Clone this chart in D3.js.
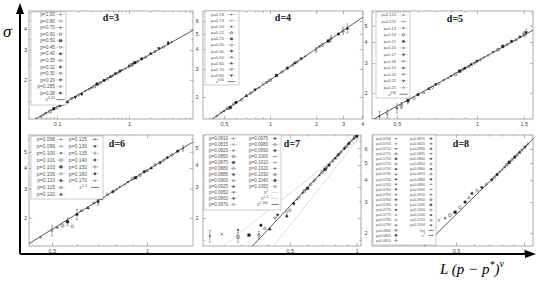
<!DOCTYPE html>
<html>
<head>
<meta charset="utf-8">
<script src="https://cdn.jsdelivr.net/npm/d3@7"></script>
<style>
  body { margin: 0; background: #fff; }
  svg { display: block; }
</style>
</head>
<body>
<script>
// values: x = L(p-p*)^nu, s = sigma, e = error bar half height

// d=3
const pD3 = ["1.00","0.80","0.70","0.60","0.50","0.45","0.40","0.35","0.32","0.30","0.29","0.285","0.28"];
const xD3 = [0.06,0.065,0.07,0.08,0.09,0.10,0.11,0.12,0.14,0.16,0.18,0.20,0.22,0.25,0.28,0.30,0.33,0.36,0.40,0.45,0.50,0.55,0.60,0.65,0.70,0.75,0.80,0.90,1.00,1.10,1.20,1.30,1.50,1.70,2.00,2.30,2.60,3.00,3.50,3.90];
const sD3 = [1.21,1.24,1.27,1.30,1.35,1.37,1.41,1.43,1.48,1.55,1.58,1.63,1.65,1.73,1.76,1.80,1.83,1.89,1.92,1.99,2.03,2.09,2.12,2.18,2.20,2.26,2.29,2.34,2.42,2.46,2.53,2.56,2.67,2.73,2.87,2.94,3.07,3.14,3.30,3.35];
const eD3 = [0,0,0,0,0,0,0,0,0,0,0,0,0,0,0,0,0,0,0,0,0,0,0,0,0,0,0,0,0.06,0.05,0,0,0,0,0,0,0,0,0.08,0];
const fitD3 = [[2.41, 0.24, "0.24"]];

// d=4
const pD4 = ["0.18","0.19","0.20","0.22","0.25","0.30","0.40","0.50","0.60","0.70","0.80"];
const xD4 = [0.45,0.48,0.50,0.53,0.55,0.58,0.60,0.65,0.70,0.75,0.80,0.85,0.90,0.95,1.00,1.10,1.20,1.30,1.40,1.45,1.50,1.60,1.70,2.00,2.10,2.20,2.40,2.50,2.80,3.00,3.20];
const sD4 = [1.52,1.60,1.63,1.70,1.72,1.81,1.85,1.92,2.04,2.11,2.22,2.29,2.40,2.47,2.55,2.73,2.87,3.04,3.17,3.27,3.32,3.48,3.60,3.95,4.16,4.25,4.50,4.66,4.98,5.20,5.42];
const eD4 = [0,0,0,0,0,0,0,0,0,0,0,0,0,0,0,0,0,0,0,0,0,0,0,0.15,0,0,0,0.2,0,0.25,0.35];
const fitD4 = [[2.56, 0.65, "0.65"]];

// d=5
const pD5 = ["0.124","0.125","0.13","0.14","0.15","0.16","0.17","0.18","0.19","0.20","0.22","0.25"];
const xD5 = [0.43,0.46,0.50,0.52,0.55,0.58,0.60,0.63,0.66,0.68,0.70,0.72,0.75,0.78,0.80,0.83,0.86,0.88,0.90,0.93,0.95,0.98,1.00,1.03,1.06,1.10,1.15,1.20,1.25,1.30,1.35,1.40,1.45,1.50,1.53];
const sD5 = [1.45,1.50,1.62,1.68,1.80,1.86,1.95,2.01,2.12,2.15,2.24,2.27,2.38,2.44,2.52,2.58,2.69,2.73,2.80,2.87,2.95,3.00,3.08,3.14,3.25,3.33,3.50,3.60,3.77,3.87,4.04,4.12,4.30,4.45,4.55];
const eD5 = [0.1,0.08,0.1,0.07,0.08,0,0,0,0,0,0,0,0,0,0,0,0,0,0,0,0,0,0,0,0,0,0,0,0,0,0,0,0,0.15,0.2];
const fitD5 = [[3.07, 0.88, "0.88"]];

// d=6
const pD6 = ["0.098","0.099","0.100","0.101","0.103","0.105","0.110","0.115","0.120","0.125","0.130","0.135","0.140","0.150","0.160","0.170"];
const xD6 = [0.46,0.50,0.52,0.54,0.56,0.58,0.60,0.62,0.65,0.68,0.70,0.70,0.72,0.75,0.78,0.80,0.82,0.85,0.87,0.90,0.92,0.95,0.98,1.00,1.03,1.06,1.10,1.13,1.16,1.20,1.25,1.30];
const sD6 = [1.53,1.68,1.75,1.80,1.90,1.78,2.10,2.22,2.30,2.45,2.50,2.60,2.62,2.78,2.88,2.97,3.08,3.18,3.30,3.45,3.50,3.62,3.80,3.86,4.00,4.17,4.30,4.46,4.62,4.78,5.05,5.25];
const eD6 = [0,0.12,0,0,0.1,0,0.15,0,0,0,0.12,0.1,0,0,0,0,0,0,0,0,0,0,0,0,0,0,0,0,0,0,0,0.2];
const fitD6 = [[3.87, 1.18, "1.1"]];

// d=7
const pD7 = ["0.0810","0.0815","0.0825","0.0850","0.0875","0.0880","0.0885","0.0900","0.0925","0.0950","0.0960","0.0970","0.0975","0.0980","0.0990","0.1000","0.1010","0.1020","0.1030","0.1040","0.1050"];
const xD7 = [0.218,0.247,0.292,0.292,0.327,0.362,0.370,0.385,0.406,0.428,0.440,0.484,0.484,0.50,0.52,0.54,0.55,0.57,0.58,0.60,0.62,0.64,0.65,0.68,0.70,0.72,0.73,0.75,0.78,0.80,0.82,0.83,0.85,0.88,0.90,0.92,0.93,0.95,0.97,0.98,1.00];
const sD7 = [1.58,1.62,1.71,1.56,1.60,1.60,1.82,1.75,1.73,2.00,2.08,2.16,2.05,2.22,2.42,2.55,2.62,2.78,2.85,2.95,3.10,3.24,3.30,3.50,3.65,3.78,3.86,4.00,4.22,4.38,4.52,4.60,4.74,4.98,5.12,5.30,5.38,5.52,5.65,5.75,5.85];
const eD7 = [0.12,0,0,0.1,0,0.08,0,0,0,0,0,0,0,0,0,0,0,0,0,0,0,0,0,0,0,0,0,0,0,0,0,0,0,0,0,0,0,0,0,0,0];
const fitD7 = [[5.52, 1, "1", "dot"], [5.5, 1.6, "1.5", "dot"], [5.93, 1.344, "1.344"]];

// d=8
const pD8 = ["0.0700","0.0705","0.0710","0.0715","0.0720","0.0725","0.0730","0.0735","0.0740","0.0745","0.0750","0.0755","0.0760","0.0765","0.0770","0.0775","0.0780","0.0790","0.0800","0.0805","0.0810",
             "0.0815","0.0820","0.0830","0.0835","0.0840","0.0850","0.0860","0.0870","0.0880","0.0890","0.0900","0.0910","0.0950","0.1000","0.1050","0.1100","0.1150","0.2094"];
const xD8 = [0.40,0.42,0.447,0.47,0.495,0.52,0.548,0.57,0.588,0.62,0.65,0.68,0.72,0.74,0.76,0.78,0.80,0.82,0.84,0.86,0.885,0.91,0.93,0.955,0.98,1.01,1.04];
const sD8 = [2.31,2.36,2.43,2.53,2.63,2.80,3.00,3.18,3.37,3.48,3.62,3.80,4.02,4.15,4.30,4.45,4.58,4.73,4.88,5.05,5.22,5.40,5.55,5.75,5.92,6.15,6.40];
const eD8 = xD8.map(() => 0);
const fitD8 = [[6.1, 1.26, "f(x)"]];

const panels = [
    { title: "d=3", tx: 111, ty: 21, box: [29, 11, 193, 119], xDom: [0.0408, 7.74], yDom: [1.175, 5.12],
      xTicks: [0.1, 1], yTicks: [2, 3, 4], ypad: 2, xs: xD3, ys: sD3, es: eD3, ps: pD3, fits: fitD3,
      leg: { x: 31, y: 12, w: 35, h: 93, text: [55], mark: [60.5], y0: 14.5, dy: 6.55, rows: 14, fs: 4.8, sw: 8 } },
    { title: "d=4", tx: 283, ty: 21, box: [203, 11, 363, 119], xDom: [0.365, 4.05], yDom: [1.455, 6.95],
      xTicks: [0.5, 1, 2, 3, 4], yTicks: [2, 3, 4, 5, 6], ypad: 4.5, xs: xD4, ys: sD4, es: eD4, ps: pD4, fits: fitD4,
      leg: { x: 205, y: 11, w: 34, h: 74, text: [224], mark: [231.5], y0: 14.5, dy: 6.1, rows: 12, fs: 4.2, sw: 8 } },
    { title: "d=5", tx: 455, ty: 22, box: [372, 11, 533, 119], xDom: [0.403, 1.624], yDom: [1.40, 6.11],
      xTicks: [0.5, 1, 1.5], yTicks: [2, 3, 4, 5], ypad: 4.5, xs: xD5, ys: sD5, es: eD5, ps: pD5, fits: fitD5,
      leg: { x: 376, y: 12, w: 34, h: 86, text: [396], mark: [403.5], y0: 15, dy: 6.6, rows: 13, fs: 4.0, sw: 8 } },
    { title: "d=6", tx: 117, ty: 147, box: [29, 135, 193, 246], xDom: [0.423, 1.398], yDom: [1.356, 6.32],
      xTicks: [0.5, 1], yTicks: [2, 3, 4, 5], ypad: 2, xs: xD6, ys: sD6, es: eD6, ps: pD6, fits: fitD6,
      leg: { x: 31, y: 136, w: 72, h: 63, text: [55, 87], mark: [61, 95], y0: 139.5, dy: 6.85, rows: 9, fs: 5.0, sw: 8 } },
    { title: "d=7", tx: 292, ty: 147, box: [203, 135, 361, 246], xDom: [0.203, 1.045], yDom: [1.387, 5.93],
      xTicks: [0.5, 1], yTicks: [2, 3, 4, 5], ypad: 4.5, xs: xD7, ys: sD7, es: eD7, ps: pD7, fits: fitD7,
      leg: { x: 204, y: 135, w: 77, h: 75, text: [228, 268], mark: [233.5, 275], y0: 138.5, dy: 6.0, rows: 12, fs: 4.5, sw: 7 } },
    { title: "d=8", tx: 461, ty: 147, box: [372, 135, 533, 246], xDom: [0.212, 1.096], yDom: [1.69, 7.21],
      xTicks: [0.5, 1], yTicks: [2, 3, 4, 5, 6], ypad: 4.5, xs: xD8, ys: sD8, es: eD8, ps: pD8, fits: fitD8, extra: "2",
      leg: { x: 373, y: 135, w: 63, h: 110, text: [391, 425], mark: [396, 431], y0: 138.5, dy: 5.1, rows: 21, fs: 3.6, sw: 5 } }
];

const svg = d3.select("body").append("svg")
    .attr("width", 538)
    .attr("height", 281)
    .style("font-family", "'Liberation Sans', Arial, sans-serif");

// gnuplot-like point types
function markerPath(t, s) {
    const k = t % 15;
    if (k === 0) return `M${-s},0H${s}M0,${-s}V${s}`;
    if (k === 1) return `M${-s},${-s}L${s},${s}M${-s},${s}L${s},${-s}`;
    if (k === 2) {
        const q = s * 0.7;
        return `M${-s},0H${s}M0,${-s}V${s}M${-q},${-q}L${q},${q}M${-q},${q}L${q},${-q}`;
    }
    if (k <= 4) return `M${-s},${-s}H${s}V${s}H${-s}Z`;
    if (k <= 6) return `M${s},0A${s},${s} 0 1,1 ${-s},0A${s},${s} 0 1,1 ${s},0Z`;
    if (k <= 8) return `M0,${-s * 1.15}L${s * 1.1},${s * 0.75}L${-s * 1.1},${s * 0.75}Z`;
    if (k <= 10) return `M0,${s * 1.15}L${s * 1.1},${-s * 0.75}L${-s * 1.1},${-s * 0.75}Z`;
    if (k <= 12) return `M0,${-s * 1.25}L${s},0L0,${s * 1.25}L${-s},0Z`;
    const pts = d3.range(5).map(i => {
        const a = -Math.PI / 2 + i * 2 * Math.PI / 5;
        return [s * 1.1 * Math.cos(a), s * 1.1 * Math.sin(a)];
    });
    return "M" + pts.map(p => p.join(",")).join("L") + "Z";
}
const isFilled = t => [4, 6, 8, 10, 12, 14].includes(t % 15);

function drawMarker(g, cx, cy, t, s, col) {
    g.append("path")
        .attr("transform", `translate(${cx},${cy})`)
        .attr("d", markerPath(t, s))
        .attr("fill", isFilled(t) ? col : "none")
        .attr("stroke", col)
        .attr("stroke-width", 0.45);
}

panels.forEach((p, k) => {
    const [x0, y0, x1, y1] = p.box;
    const x = d3.scaleLog().domain(p.xDom).range([x0, x1]);
    const y = d3.scaleLog().domain(p.yDom).range([y1, y0]);
    const g = svg.append("g");

    svg.append("clipPath").attr("id", "clip" + k)
        .append("rect")
        .attr("x", x0).attr("y", y0)
        .attr("width", x1 - x0).attr("height", y1 - y0);

    // minor ticks (all four sides)
    const xMinor = x.ticks().filter(v => !p.xTicks.includes(+v.toFixed(6)));
    const yMinor = y.ticks().filter(v => !p.yTicks.includes(+v.toFixed(6)));
    const styleAxis = sel => {
        sel.select(".domain").remove();
        sel.selectAll("line").attr("stroke", "#666").attr("stroke-width", 0.5);
        sel.selectAll("text").attr("fill", "#444");
    };
    g.append("g").attr("transform", `translate(0,${y1})`)
        .call(d3.axisBottom(x).tickValues(xMinor).tickSize(-1.6).tickFormat("")).call(styleAxis);
    g.append("g").attr("transform", `translate(0,${y0})`)
        .call(d3.axisTop(x).tickValues(xMinor).tickSize(-1.6).tickFormat("")).call(styleAxis);
    g.append("g").attr("transform", `translate(${x0},0)`)
        .call(d3.axisLeft(y).tickValues(yMinor).tickSize(-1.6).tickFormat("")).call(styleAxis);
    g.append("g").attr("transform", `translate(${x1},0)`)
        .call(d3.axisRight(y).tickValues(yMinor).tickSize(-1.6).tickFormat("")).call(styleAxis);

    // major ticks with labels
    g.append("g").attr("transform", `translate(0,${y1})`)
        .call(d3.axisBottom(x).tickValues(p.xTicks).tickSize(-3.2).tickPadding(3).tickFormat(d => d))
        .attr("font-size", 5.5).attr("font-family", null)
        .call(styleAxis);
    g.append("g").attr("transform", `translate(0,${y0})`)
        .call(d3.axisTop(x).tickValues(p.xTicks).tickSize(-3.2).tickFormat("")).call(styleAxis);
    g.append("g").attr("transform", `translate(${x0},0)`)
        .call(d3.axisLeft(y).tickValues(p.yTicks).tickSize(-3.2).tickPadding(p.ypad).tickFormat(d => d))
        .attr("font-size", 5.5).attr("font-family", null)
        .call(styleAxis);
    g.append("g").attr("transform", `translate(${x1},0)`)
        .call(d3.axisRight(y).tickValues(p.yTicks).tickSize(-3.2).tickFormat("")).call(styleAxis);

    // frame
    g.append("rect")
        .attr("x", x0).attr("y", y0)
        .attr("width", x1 - x0).attr("height", y1 - y0)
        .attr("fill", "none").attr("stroke", "#888").attr("stroke-width", 0.7);

    const plot = g.append("g").attr("clip-path", `url(#clip${k})`);

    // power-law fits
    const line = d3.line().x(d => x(d[0])).y(d => y(d[1]));
    p.fits.forEach(f => {
        const ends = p.xDom.map(v => [v, f[0] * Math.pow(v, f[1])]);
        plot.append("path")
            .attr("d", line(ends))
            .attr("fill", "none")
            .attr("stroke", f[3] === "dot" ? "#999" : "#111")
            .attr("stroke-width", f[3] === "dot" ? 0.6 : 0.7)
            .attr("stroke-dasharray", f[3] === "dot" ? "1.2,1" : null);
    });

    // data points with error bars
    p.xs.forEach((xv, i) => {
        const cx = x(xv), cy = y(p.ys[i]), e = p.es[i];
        if (e > 0) {
            const ya = y(p.ys[i] - e), yb = y(p.ys[i] + e);
            plot.append("path")
                .attr("d", `M${cx},${ya}V${yb}M${cx - 1},${ya}H${cx + 1}M${cx - 1},${yb}H${cx + 1}`)
                .attr("stroke", "#444").attr("stroke-width", 0.45).attr("fill", "none");
        }
        drawMarker(plot, cx, cy, i % p.ps.length, 1.3, "#222");
    });

    // legend
    const L = p.leg;
    const lg = g.append("g");
    lg.append("rect")
        .attr("x", L.x).attr("y", L.y).attr("width", L.w).attr("height", L.h)
        .attr("fill", "#fff").attr("stroke", "#999").attr("stroke-width", 0.5);

    const entries = p.ps.map((v, i) => ({ kind: "p", label: "p=" + v, t: i }))
        .concat(p.fits.map(f => ({ kind: "fit", label: f[2], dot: f[3] === "dot" })));
    if (p.extra) entries.push({ kind: "fit", label: p.extra });

    entries.forEach((en, j) => {
        const col = Math.floor(j / L.rows), row = j % L.rows;
        const ty = L.y0 + row * L.dy;
        const tx = L.text[col], mx = L.mark[col];
        const txt = lg.append("text")
            .attr("x", tx).attr("y", ty + L.fs * 0.35)
            .attr("text-anchor", "end")
            .attr("font-size", L.fs)
            .attr("fill", "#555");
        if (en.kind === "p") {
            txt.text(en.label);
            lg.append("line")
                .attr("x1", mx - L.sw / 2).attr("x2", mx + L.sw / 2)
                .attr("y1", ty).attr("y2", ty)
                .attr("stroke", "#999").attr("stroke-width", 0.4);
            drawMarker(lg, mx, ty, en.t, L.fs * 0.24, "#444");
        } else {
            if (en.label === "f(x)") {
                txt.text("f(x)");
            } else {
                txt.append("tspan").text("x");
                txt.append("tspan").attr("dy", -L.fs * 0.45).attr("font-size", L.fs * 0.75).text(en.label);
            }
            lg.append("line")
                .attr("x1", mx - L.sw / 2).attr("x2", mx + L.sw / 2)
                .attr("y1", ty).attr("y2", ty)
                .attr("stroke", en.dot ? "#999" : "#222")
                .attr("stroke-width", 0.6)
                .attr("stroke-dasharray", en.dot ? "1,0.8" : null);
        }
    });

    // panel title
    g.append("text")
        .attr("x", p.tx).attr("y", p.ty)
        .attr("text-anchor", "middle")
        .attr("font-family", "'Liberation Serif', 'DejaVu Serif', serif")
        .attr("font-weight", "bold")
        .attr("font-size", 10)
        .attr("fill", "#111")
        .text(p.title);
});

// big axis arrows
svg.append("path")
    .attr("d", "M20,254V12M20,254H527")
    .attr("stroke", "#000").attr("stroke-width", 2).attr("fill", "none");
svg.append("path").attr("d", "M20,3L16,14L24,14Z").attr("fill", "#000");
svg.append("path").attr("d", "M536,254L525,250L525,258Z").attr("fill", "#000");

svg.append("text")
    .attr("x", 3).attr("y", 37)
    .attr("font-family", "'Liberation Serif', 'DejaVu Serif', serif")
    .attr("font-style", "italic")
    .attr("font-size", 17)
    .text("σ");

const xl = svg.append("text")
    .attr("x", 440).attr("y", 274)
    .attr("font-family", "'Liberation Serif', 'DejaVu Serif', serif")
    .attr("font-style", "italic")
    .attr("font-size", 15);
xl.append("tspan").text("L (p − p");
xl.append("tspan").attr("dy", -6).attr("font-size", 10).text("*");
xl.append("tspan").attr("dy", 6).text(")");
xl.append("tspan").attr("dy", -7).attr("font-size", 10).text("ν");
</script>
</body>
</html>
